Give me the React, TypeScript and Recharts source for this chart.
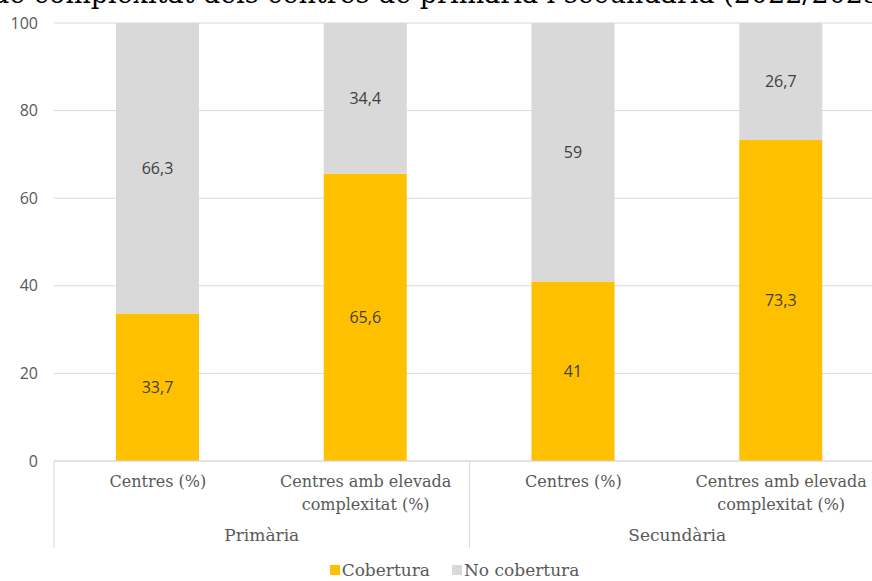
import { Bar, BarChart, CartesianGrid, LabelList, Legend, XAxis, YAxis } from "recharts";

const CATEGORIES = ["Centres (%)", "Centres amb elevada complexitat (%)", "Centres (%)", "Centres amb elevada complexitat (%)"];
const GROUPS = ["Primària", "Primària", "Secundària", "Secundària"];
const COBERTURA = [33.7, 65.6, 41, 73.3];
const NO_COBERTURA = [66.3, 34.4, 59, 26.7];
const Y_TICKS = [0, 20, 40, 60, 80, 100];

const CHART_W = 900;
const MARGIN = { top: 23, right: 15, bottom: 0, left: 8 };
const Y_AXIS_W = 46;
const BAND = (CHART_W - MARGIN.left - MARGIN.right - Y_AXIS_W) / CATEGORIES.length;

const data = CATEGORIES.map((cat, i) => ({
  cat,
  group: GROUPS[i],
  cobertura: COBERTURA[i],
  noCobertura: NO_COBERTURA[i],
}));

const SERIF = "'DejaVu Serif', serif";
const SANS = "'Open Sans', sans-serif";

const fmt = (v: any) => String(v).replace(".", ",");

function CategoryTick(props: any) {
  const { x, y, payload, index } = props;
  const label: string = payload.value;
  const lines = label === "Centres (%)" ? [label] : ["Centres amb elevada", "complexitat (%)"];
  const showGroup = index % 2 === 0;
  return (
    <g>
      {lines.map((l, i) => (
        <text key={i} x={x} y={y + 26 + i * 23} textAnchor="middle" fill="#595959" fontSize={16} fontFamily={SERIF}>
          {l}
        </text>
      ))}
      {showGroup && (
        <>
          <line x1={x - BAND / 2} x2={x - BAND / 2} y1={y} y2={y + 87} stroke="#d9d9d9" strokeWidth={1} />
          <text x={x + BAND / 2} y={y + 80} textAnchor="middle" fill="#595959" fontSize={17} fontFamily={SERIF}>
            {GROUPS[index]}
          </text>
        </>
      )}
    </g>
  );
}

function LegendContent() {
  const items = [
    { name: "Cobertura", color: "#FFC000" },
    { name: "No cobertura", color: "#D9D9D9" },
  ];
  return (
    <div style={{ display: "flex", justifyContent: "center", gap: 22, fontFamily: SERIF, fontSize: 17, lineHeight: "20px", color: "#595959", marginLeft: 16, marginTop: 3 }}>
      {items.map((it) => (
        <span key={it.name} style={{ display: "flex", alignItems: "center" }}>
          <span style={{ display: "inline-block", width: 10, height: 10, background: it.color, marginRight: 2 }} />
          {it.name}
        </span>
      ))}
    </div>
  );
}

export default function App() {
  return (
    <div style={{ position: "absolute", left: 0, top: 0, width: 872, height: 581, overflow: "hidden", background: "#fff" }}>
      <div
        style={{
          position: "absolute",
          left: -8,
          top: -22,
          whiteSpace: "nowrap",
          fontFamily: SERIF,
          fontSize: 27,
          color: "#000",
        }}
      >
        de complexitat dels centres de primària i secundària (2022/2023)
      </div>
      <BarChart width={CHART_W} height={581} data={data} margin={MARGIN} barCategoryGap="20%">
        <CartesianGrid vertical={false} stroke="#d9d9d9" />
        <YAxis
          width={Y_AXIS_W}
          domain={[0, 100]}
          ticks={Y_TICKS}
          axisLine={false}
          tickLine={false}
          tickMargin={10}
          tick={{ fill: "#595959", fontSize: 16, fontFamily: SANS }}
        />
        <XAxis
          dataKey="cat"
          height={96}
          interval={0}
          tickLine={false}
          tickSize={0}
          tickMargin={0}
          axisLine={{ stroke: "#d9d9d9" }}
          tick={<CategoryTick />}
        />
        <Legend verticalAlign="bottom" height={24} content={<LegendContent />} />
        <Bar dataKey="cobertura" name="Cobertura" stackId="a" fill="#FFC000" barSize={83} isAnimationActive={false}>
          <LabelList dataKey="cobertura" position="center" formatter={fmt} fill="#404040" fontSize={16} fontFamily={SANS} />
        </Bar>
        <Bar dataKey="noCobertura" name="No cobertura" stackId="a" fill="#D9D9D9" barSize={83} isAnimationActive={false}>
          <LabelList dataKey="noCobertura" position="center" formatter={fmt} fill="#404040" fontSize={16} fontFamily={SANS} />
        </Bar>
      </BarChart>
    </div>
  );
}
